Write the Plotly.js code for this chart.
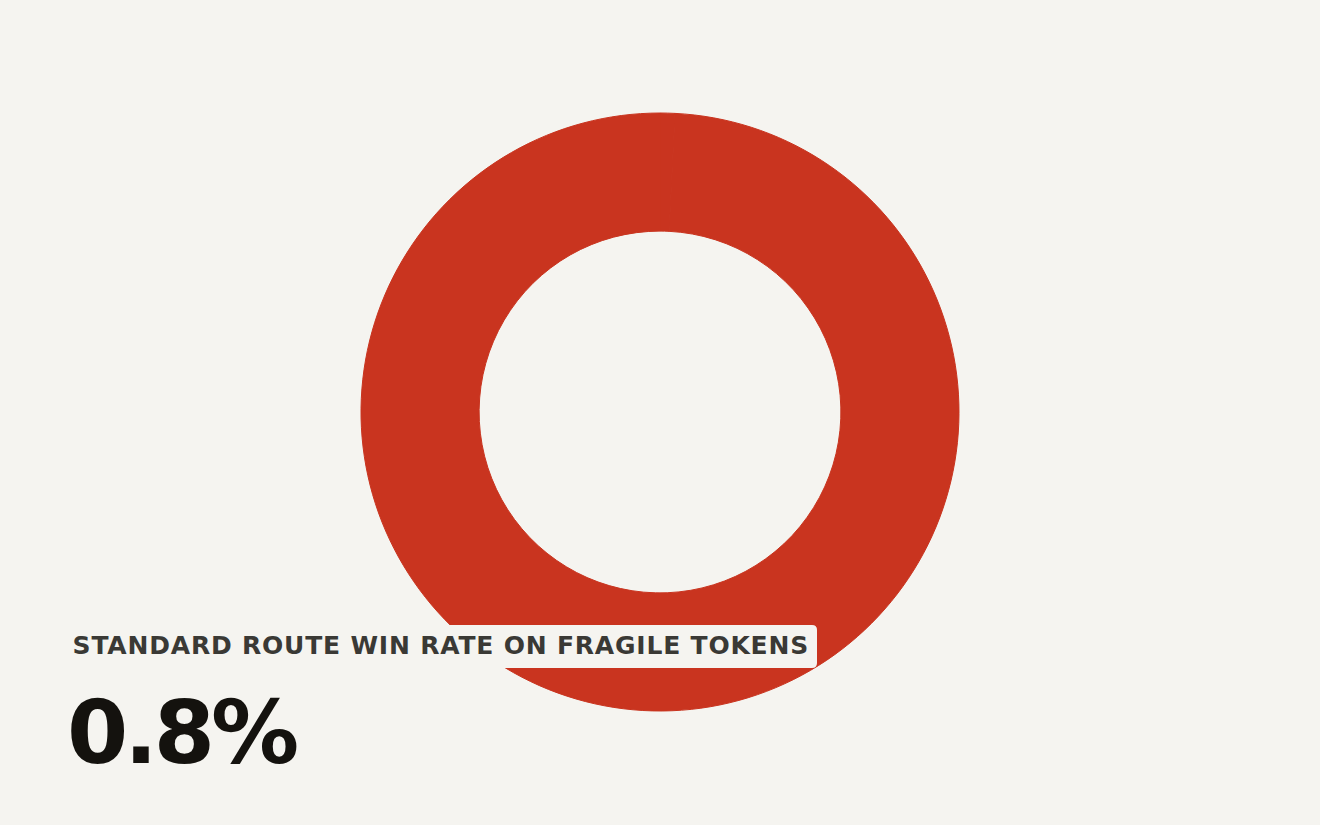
<!DOCTYPE html>
<html>
<head>
<meta charset="utf-8">
<script src="https://cdn.plot.ly/plotly-3.0.1.min.js"></script>
<style>
  html, body { margin: 0; padding: 0; background: #f5f4f0; }
  #chart { width: 1320px; height: 825px; }
  .annotation[data-index="0"] text { letter-spacing: 0.8px; }
  .annotation[data-index="1"] text { letter-spacing: -4px; }
</style>
</head>
<body>
<div id="chart"></div>
<script>
// share of fragile-token trades won by the standard route
var labels = ['Standard route wins', 'Other outcomes'];
var values = [0.8, 99.2];
var colors = ['#c9341f', '#c9341f'];
var headline = 'STANDARD ROUTE WIN RATE ON FRAGILE TOKENS';

var W = 1320, H = 825;
function px(x) { return x / W; }
function py(y) { return 1 - y / H; }

var trace = {
  type: 'pie',
  labels: labels,
  values: values,
  hole: 0.605,
  sort: false,
  direction: 'clockwise',
  rotation: 0,
  textinfo: 'none',
  hoverinfo: 'label+percent',
  marker: { colors: colors, line: { width: 1, color: '#c9341f' } },
  domain: { x: [px(361), px(959)], y: [py(711), py(113)] },
  showlegend: false
};

// rounded label plate over the ring
var x0 = 60, x1 = 817, y0 = 625, y1 = 668, r = 5;
var plate = 'M ' + px(x0 + r) + ' ' + py(y0) +
  ' L ' + px(x1 - r) + ' ' + py(y0) +
  ' Q ' + px(x1) + ' ' + py(y0) + ' ' + px(x1) + ' ' + py(y0 + r) +
  ' L ' + px(x1) + ' ' + py(y1 - r) +
  ' Q ' + px(x1) + ' ' + py(y1) + ' ' + px(x1 - r) + ' ' + py(y1) +
  ' L ' + px(x0 + r) + ' ' + py(y1) +
  ' Q ' + px(x0) + ' ' + py(y1) + ' ' + px(x0) + ' ' + py(y1 - r) +
  ' L ' + px(x0) + ' ' + py(y0 + r) +
  ' Q ' + px(x0) + ' ' + py(y0) + ' ' + px(x0 + r) + ' ' + py(y0) + ' Z';

var layout = {
  width: W,
  height: H,
  margin: { l: 0, r: 0, t: 0, b: 0 },
  paper_bgcolor: '#f5f4f0',
  plot_bgcolor: '#f5f4f0',
  font: { family: 'DejaVu Sans, sans-serif' },
  shapes: [{
    type: 'path',
    xref: 'paper', yref: 'paper',
    path: plate,
    fillcolor: '#f5f4f0',
    line: { width: 0 },
    layer: 'above'
  }],
  annotations: [
    {
      xref: 'paper', yref: 'paper',
      x: px(87), y: py(645),
      xanchor: 'left', yanchor: 'middle',
      text: '<b>' + headline + '</b>',
      showarrow: false,
      font: { family: 'DejaVu Sans', size: 25, color: '#3a3935' }
    },
    {
      xref: 'paper', yref: 'paper',
      x: px(57), y: py(732),
      xanchor: 'left', yanchor: 'middle',
      text: '<b>' + values[0] + '%</b>',
      showarrow: false,
      font: { family: 'DejaVu Sans', size: 88, color: '#14120e' }
    }
  ]
};

Plotly.newPlot('chart', [trace], layout, { displayModeBar: false });
</script>
</body>
</html>
